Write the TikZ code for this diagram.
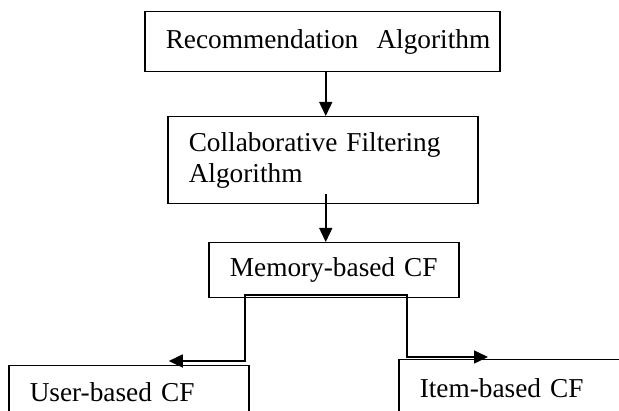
\documentclass[tikz,border=0pt]{standalone}
\usepackage{fontspec}
\setmainfont{Liberation Serif}
\usetikzlibrary{arrows.meta}
\newcommand{\stagefont}{\fontsize{27.3pt}{31pt}\selectfont}

\begin{document}
\begin{tikzpicture}[x=1pt, y=-1pt, >={Triangle[length=14pt,width=13pt]},
    stage/.style={draw, line width=1.5pt, anchor=north west, align=left, inner xsep=21pt, inner ysep=0pt, font=\stagefont},
    link/.style={line width=1.5pt}]
    \useasboundingbox (0,0) rectangle (619,411);
    \clip (0,0) rectangle (619,411);

    \node[stage, text width=313pt, minimum height=60pt] (rec) at (144,11) {\mbox{Recommendation~~Algorithm}};
    \node[stage, text width=268pt, minimum height=87pt] (collab) at (167,116) {Collaborative Filtering\\Algorithm};
    \node[stage, align=center, text width=208pt, minimum height=55pt] (mem) at (208,242) {Memory-based CF};
    \node[stage, text width=198pt, minimum height=52pt] (user) at (8,365) {User-based CF};
    \node[stage, text width=208pt, minimum height=56pt] (item) at (398,359) {Item-based CF};

    \coordinate (mid) at ([xshift=-11pt,yshift=3.5pt]mem.south);
    \coordinate (leftdrop) at ([xshift=-78pt]mid);
    \coordinate (rightdrop) at ([xshift=84pt]mid);
    \coordinate (usertip) at ([xshift=40pt,yshift=4pt]user.north);
    \coordinate (itemtip) at ([xshift=90pt,yshift=2pt]item.north west);

    \draw[->, link] ([xshift=3.5pt]rec.south) -- ([xshift=3.5pt]rec.south |- collab.north);
    \draw[->, link] ([xshift=3pt,yshift=10pt]collab.south) -- ([xshift=3pt]collab.south |- mem.north);
    \draw[->, link] (mid) -- (leftdrop) |- (usertip);
    \draw[->, link] (mid) -- (rightdrop) |- (itemtip);
\end{tikzpicture}
\end{document}
